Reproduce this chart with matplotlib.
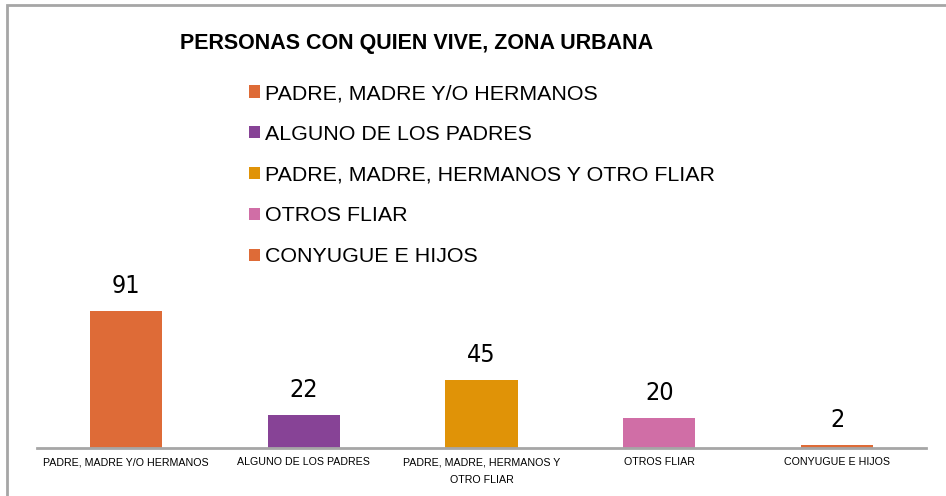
import matplotlib.pyplot as plt
from matplotlib.patches import Rectangle, Patch

categories = ["PADRE, MADRE Y/O HERMANOS", "ALGUNO DE LOS PADRES",
              "PADRE, MADRE, HERMANOS Y OTRO FLIAR", "OTROS FLIAR",
              "CONYUGUE E HIJOS"]
tick_labels = ["PADRE, MADRE Y/O HERMANOS", "ALGUNO DE LOS PADRES",
               "PADRE, MADRE, HERMANOS Y\nOTRO FLIAR", "OTROS FLIAR",
               "CONYUGUE E HIJOS"]
values = [91, 22, 45, 20, 2]
colors = ["#DE6B37", "#874396", "#E09307", "#D06EA6", "#DE6B37"]

W, H = 946, 496
fig = plt.figure(figsize=(W / 100, H / 100), dpi=100)

# chart border (only left/top visible in the reference)
fig.patches.append(Rectangle((7 / W, -0.1), 1.2, (H - 5) / H + 0.1,
                             transform=fig.transFigure, fill=False,
                             edgecolor="#A6A6A6", linewidth=2))

ax = fig.add_axes([37 / W, (H - 448) / H, (926 - 37) / W, 150.5 / H])
x = range(len(values))
bars = ax.bar(x, values, width=0.405, color=colors)
ax.set_xlim(-0.5, 4.5)
ax.set_ylim(0, 100)

for xi, v in zip(x, values):
    ax.text(xi, v + 12, str(v), ha="center", va="baseline", fontsize=18,
            family="DejaVu Sans", fontstretch="condensed", clip_on=False)

for s in ["top", "right", "left"]:
    ax.spines[s].set_visible(False)
ax.spines["bottom"].set_color("#A6A6A6")
ax.spines["bottom"].set_linewidth(2)
ax.set_yticks([])
ax.set_xticks(list(x))
ax.set_xticklabels(tick_labels, fontsize=7.7, family="Liberation Sans",
                   linespacing=2.0)
ax.tick_params(axis="x", length=0, pad=6.5)

fig.text(417 / W, (H - 43) / H, "PERSONAS CON QUIEN VIVE, ZONA URBANA",
         ha="center", va="center", fontsize=15.5, fontweight="bold",
         family="Liberation Sans")

handles = [Patch(facecolor=c) for c in colors]
leg = fig.legend(handles, categories, loc="upper left",
                 bbox_to_anchor=(249 / W, (H - 84) / H), frameon=False,
                 prop={"family": "Liberation Sans", "size": 15.4},
                 handlelength=0.5, handleheight=0.5, handletextpad=0.25,
                 labelspacing=1.02, borderpad=0, borderaxespad=0)

fig.savefig("out.png", dpi=100)
